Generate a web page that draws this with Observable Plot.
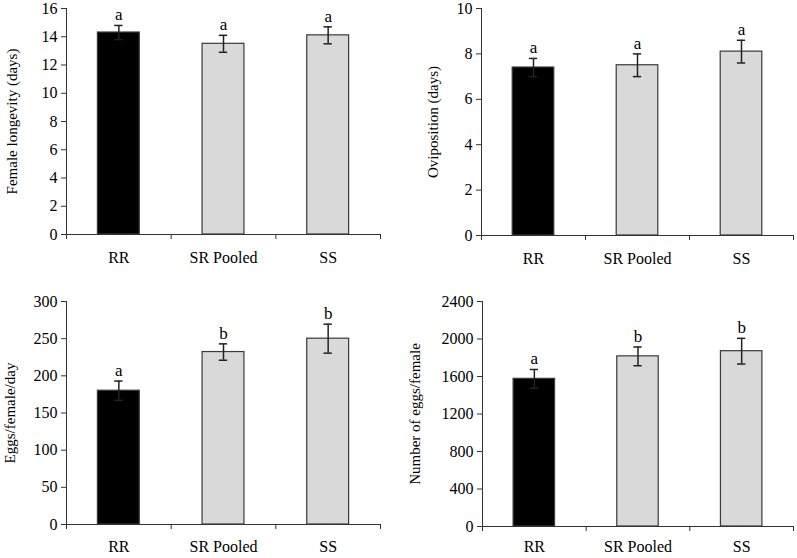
<!DOCTYPE html>
<html><head><meta charset="utf-8">
<script src="https://cdn.jsdelivr.net/npm/d3@7"></script>
<script src="https://cdn.jsdelivr.net/npm/@observablehq/plot@0.6"></script>
<style>
html,body{margin:0;padding:0;background:#fff;}
#wrap{position:relative;width:797px;height:558px;}
#wrap > div{position:absolute;}
svg text{font-family:"Liberation Serif","Times New Roman",serif !important;}
</style>
</head><body>
<div id="wrap"><div id="p1"></div><div id="p2"></div><div id="p3"></div><div id="p4"></div></div>
<script>
const categories = ["RR", "SR Pooled", "SS"];
const barColors = ["#000000", "#d9d9d9", "#d9d9d9"];

const longevity = [14.3, 13.5, 14.1];
const longevityErr = [0.5, 0.6, 0.6];
const longevityLetters = ["a", "a", "a"];

const oviposition = [7.4, 7.5, 8.1];
const ovipositionErr = [0.4, 0.5, 0.5];
const ovipositionLetters = ["a", "a", "a"];

const eggsPerDay = [180, 232, 250];
const eggsPerDayErr = [13, 11, 19.5];
const eggsPerDayLetters = ["a", "b", "b"];

const eggsTotal = [1575, 1815, 1870];
const eggsTotalErr = [100, 100, 137];
const eggsTotalLetters = ["a", "b", "b"];

const titles = ["Female longevity (days)", "Oviposition (days)", "Eggs/female/day", "Number of eggs/female"];
const yTicks = [
  [0, 2, 4, 6, 8, 10, 12, 14, 16],
  [0, 2, 4, 6, 8, 10],
  [0, 50, 100, 150, 200, 250, 300],
  [0, 400, 800, 1200, 1600, 2000, 2400]
];

const FONT = "'Liberation Serif', 'Times New Roman', serif";

const panels = [
  {id: "p1", left: 0, top: 0, width: 400, height: 280, mt: 8, mb: 46, ml: 66, mr: 20, tdx: -54, ldy: 28, vals: longevity, errs: longevityErr, letters: longevityLetters},
  {id: "p2", left: 400, top: 0, width: 397, height: 280, mt: 8, mb: 45, ml: 81, mr: 4, tdx: -48, ldy: 28, vals: oviposition, errs: ovipositionErr, letters: ovipositionLetters},
  {id: "p3", left: 0, top: 280, width: 400, height: 278, mt: 21, mb: 34, ml: 66, mr: 20, tdx: -56, ldy: 27, vals: eggsPerDay, errs: eggsPerDayErr, letters: eggsPerDayLetters},
  {id: "p4", left: 400, top: 280, width: 397, height: 278, mt: 21, mb: 32, ml: 82, mr: 4, tdx: -67, ldy: 25, vals: eggsTotal, errs: eggsTotalErr, letters: eggsTotalLetters}
];

panels.forEach((p, k) => {
  const data = categories.map((c, i) => ({i, c, v: p.vals[i], e: p.errs[i], l: p.letters[i], fill: barColors[i]}));
  const ticks = yTicks[k];
  const chart = Plot.plot({
    width: p.width, height: p.height,
    marginTop: p.mt, marginBottom: p.mb, marginLeft: p.ml, marginRight: p.mr,
    style: {fontFamily: FONT, fontSize: "16px", color: "#000", background: "#fff"},
    x: {type: "linear", domain: [0, 3], axis: null},
    y: {domain: [ticks[0], ticks[ticks.length - 1]], axis: null},
    marks: [
      Plot.rectY(data, {x1: d => d.i + 0.3, x2: d => d.i + 0.7, y1: 0, y2: "v", fill: "fill", stroke: "#3a3a3a", strokeWidth: 1.2}),
      Plot.ruleX(data, {x: d => d.i + 0.5, y1: d => d.v - d.e, y2: d => d.v + d.e, stroke: "#222", strokeWidth: 1.5}),
      Plot.ruleY(data, {x1: d => d.i + 0.5 - 0.04, x2: d => d.i + 0.5 + 0.04, y: d => d.v + d.e, stroke: "#222", strokeWidth: 1.5}),
      Plot.ruleY(data, {x1: d => d.i + 0.5 - 0.04, x2: d => d.i + 0.5 + 0.04, y: d => d.v - d.e, stroke: "#222", strokeWidth: 1.5}),
      Plot.text(data, {x: d => d.i + 0.5, y: d => d.v + d.e, text: "l", dy: -5, lineAnchor: "bottom", fontSize: 17, fontFamily: FONT, fill: "#000"}),
      Plot.ruleX([0], {stroke: "#333", strokeWidth: 1}),
      Plot.ruleY([ticks[0]], {stroke: "#333", strokeWidth: 1}),
      Plot.axisY({ticks: ticks, tickSize: 5, tickPadding: 4, tickFormat: d => String(d), label: null, fontSize: 16, fontFamily: FONT, stroke: "#333", fill: "#000"}),
      Plot.axisX({ticks: [0, 1, 2, 3], tickSize: 5, tickFormat: () => "", label: null, stroke: "#333"}),
      Plot.text(data, {x: d => d.i + 0.5, frameAnchor: "bottom", text: "c", dy: p.ldy, fontSize: 16, fontFamily: FONT, fill: "#000"}),
      Plot.text([titles[k]], {frameAnchor: "left", text: d => d, rotate: -90, textAnchor: "middle", dx: p.tdx, fontSize: 15, fontFamily: FONT, fill: "#000"})
    ]
  });
  const el = document.getElementById(p.id);
  el.style.left = p.left + "px";
  el.style.top = p.top + "px";
  el.appendChild(chart);
});
</script>
</body></html>
